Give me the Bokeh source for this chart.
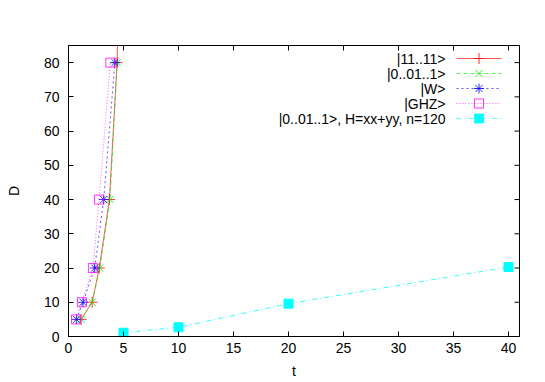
from bokeh.plotting import figure
from bokeh.models import Range1d, FixedTicker
from bokeh.core.properties import value
from bokeh.embed import file_html
from bokeh.resources import INLINE

# ---- data ----
D_levels = [5, 10, 20, 40, 80]
t_11 = [1.15, 2.15, 2.80, 3.72, 4.42, 4.90]
D_11 = [5, 10, 20, 40, 80, 160]
t_0011 = [1.15, 2.15, 2.85, 3.78, 4.42]
t_W = [0.72, 1.32, 2.38, 3.20, 4.22]
t_GHZ = [0.68, 1.22, 2.22, 2.78, 3.80]
t_xy = [5, 10, 20, 40]
D_xy = [1.1, 2.7, 9.6, 20.3]
labels = ["|11..11>", "|0..01..1>", "|W>", "|GHZ>", "|0..01..1>, H=xx+yy, n=120"]
x_ticks = [0, 5, 10, 15, 20, 25, 30, 35, 40]
y_ticks = [0, 10, 20, 30, 40, 50, 60, 70, 80]

FONT = "Liberation Sans"
FS = "14px"

XMAX, YMAX = 41, 85
FW, FH = 451.0, 291.0
p = figure(width=545, height=382, x_range=Range1d(0, XMAX), y_range=Range1d(0, YMAX),
           output_backend="svg", toolbar_location=None,
           min_border_left=68, min_border_right=26, min_border_top=45, min_border_bottom=46)
p.grid.visible = False
p.outline_line_color = "black"
p.outline_line_width = 1
p.background_fill_color = "white"
p.border_fill_color = "white"

TICK = 5
for ax, ticks in ((p.xaxis[0], x_ticks), (p.yaxis[0], y_ticks)):
    ax.ticker = FixedTicker(ticks=ticks)
    ax.major_tick_in = TICK
    ax.major_tick_out = 0
    ax.minor_tick_line_color = None
    ax.axis_line_color = "black"
    ax.major_tick_line_color = "black"
    ax.major_label_text_font = FONT
    ax.major_label_text_font_size = FS
    ax.major_label_text_color = "black"
    ax.axis_label_text_font = FONT
    ax.axis_label_text_font_size = FS
    ax.axis_label_text_font_style = "normal"
    ax.axis_label_text_color = "black"
p.xaxis.axis_label = "t"
p.yaxis.axis_label = "D"
p.xaxis.major_label_standoff = 6
p.xaxis.axis_label_standoff = 7
p.yaxis.major_label_standoff = 9
p.yaxis.axis_label_standoff = 19

# mirrored inward ticks on top and right
dx = TICK / FW * XMAX
dy = TICK / FH * YMAX
p.segment(x0=x_ticks, y0=[YMAX] * len(x_ticks), x1=x_ticks, y1=[YMAX - dy] * len(x_ticks),
          line_color="black", line_width=1)
p.segment(x0=[XMAX] * len(y_ticks), y0=y_ticks, x1=[XMAX - dx] * len(y_ticks), y1=y_ticks,
          line_color="black", line_width=1)

RED, GREEN, BLUE, MAG, CYAN = "#ff0000", "#00ee00", "#0000ff", "#ff00ff", "#00ffff"
LA = 0.65

# series
p.line(t_11, D_11, line_color=RED, line_width=1, line_alpha=LA)
p.scatter(t_11, D_11, marker="cross", size=11, line_color=RED, line_width=1, line_alpha=0.8)
p.line(t_0011, D_levels, line_color=GREEN, line_width=1, line_dash="4 3", line_alpha=LA)
p.scatter(t_0011, D_levels, marker="x", size=10, line_color=GREEN, line_width=1, line_alpha=0.8)
p.line(t_W, D_levels, line_color=BLUE, line_width=1, line_dash="2 3", line_alpha=LA)
p.scatter(t_W, D_levels, marker="asterisk", size=10, line_color=BLUE, line_width=1, line_alpha=0.8)
p.line(t_GHZ, D_levels, line_color=MAG, line_width=1, line_dash="1 2", line_alpha=LA)
p.scatter(t_GHZ, D_levels, marker="square", size=9, line_color=MAG, fill_color=None,
          line_width=1, line_alpha=0.8)
p.line(t_xy, D_xy, line_color=CYAN, line_width=1, line_dash="5 3 1 3", line_alpha=0.8)
p.scatter(t_xy, D_xy, marker="square", size=9, line_color=CYAN, fill_color=CYAN)

# custom gnuplot-style key (text left, sample right), positioned in frame pixels
def fx(px):
    return px / FW * XMAX
def fy(py):
    return YMAX - py / FH * YMAX

key_styles = [
    (RED, None, "cross", RED, 11),
    (GREEN, "4 3", "x", GREEN, 10),
    (BLUE, "2 3", "asterisk", BLUE, 10),
    (MAG, "1 2", "square", None, 9),
    (CYAN, "5 3 1 3", "square", CYAN, 9),
]
text_right = fx(377)
s0, s1, sm = fx(388), fx(433), fx(410.5)
for i, (lab, (col, dash, mk, fill, sz)) in enumerate(zip(labels, key_styles)):
    yy = fy(13 + 15 * i)
    p.text([text_right], [yy], text=[lab], text_align="right", text_baseline="middle",
           text_font=value(FONT), text_font_size=FS, text_color="black")
    kw = dict(line_color=col, line_width=1, line_alpha=LA)
    if dash:
        kw["line_dash"] = dash
    p.line([s0, s1], [yy, yy], **kw)
    p.scatter([sm], [yy], marker=mk, size=sz, line_color=col, fill_color=fill, line_width=1,
              line_alpha=0.8)

open("out.html", "w").write(file_html(p, INLINE))
